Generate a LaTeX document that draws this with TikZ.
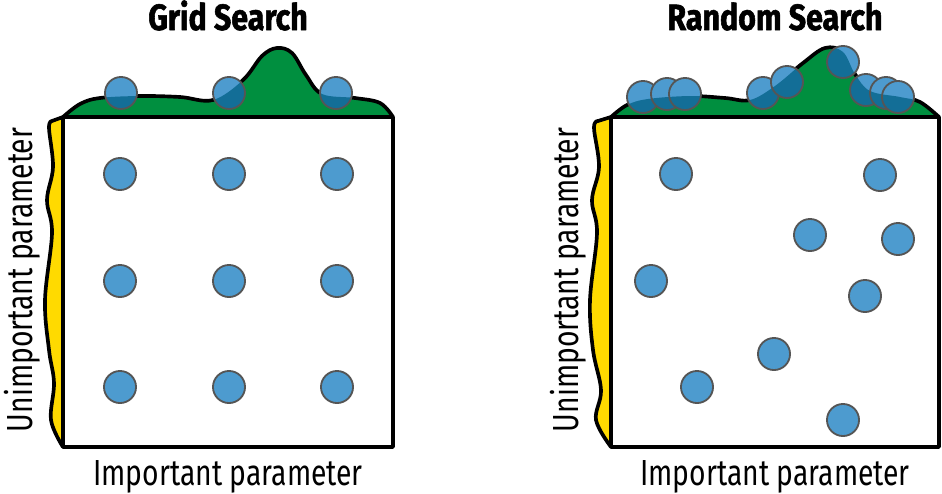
\documentclass[tikz,border=0pt]{standalone}
\usepackage{fontspec}
\setmainfont{Fira Sans}[FakeStretch=0.78]
\newfontfamily\titlefont{Fira Sans}[FakeStretch=0.83,FakeBold=1.5]
\definecolor{dotblue}{HTML}{4D9BCF}
\definecolor{dotdark}{HTML}{136E97}
\definecolor{dotedge}{HTML}{555555}
\definecolor{hillgreen}{HTML}{008F3F}
\definecolor{sideyellow}{HTML}{FFDA00}
\tikzset{
  dot/.style={fill=dotblue},
  dotline/.style={draw=dotedge,line width=1.3pt},
  frame/.style={line width=2.6pt,line join=round},
  title/.style={font=\titlefont\bfseries\fontsize{26}{28}\selectfont,anchor=base},
  axislabel/.style={font=\fontsize{25.8}{28}\selectfont,anchor=base}
}
\def\dotr{11.4pt}
% hill over the important parameter
\def\gridhill{plot[smooth,tension=0.6] coordinates {(63,117) (80,104) (100,98) (140,96) (180,97) (213,100) (243,80) (262,56) (277,48) (292,53) (306,75) (322,94) (355,98) (380,103) (393,117)}}
\def\randhill{plot[smooth,tension=0.6] coordinates {(611,117) (627,105) (648,99) (690,96) (725,98) (750,100) (775,86) (803,63) (825,48) (843,52) (855,74) (870,91) (900,97) (920,102) (939,117)}}
\begin{document}
\begin{tikzpicture}[x=0.025cm,y=-0.025cm,line cap=round,line join=round]
  \useasboundingbox (0,0) rectangle (942,494);
  % side curves
  \filldraw[fill=sideyellow,frame] (63,117) -- plot[smooth,tension=0.6] coordinates {(52,121) (49,128) (53,167) (47,200) (52,233) (45,300) (49,350) (54,383) (51,420) (63,447)} -- cycle;
  \filldraw[fill=sideyellow,frame] (611,117) -- plot[smooth,tension=0.6] coordinates {(598,121) (594,128) (599,167) (592,200) (597,233) (590,300) (593,350) (601,390) (596,420) (611,447)} -- cycle;
  % hills
  \fill[hillgreen] \gridhill -- cycle;
  \draw[frame] \gridhill;
  \fill[hillgreen] \randhill -- cycle;
  \draw[frame] \randhill;
  % boxes
  \draw[frame] (63,117) rectangle (393,447);
  \draw[frame] (611,117) rectangle (939,447);
  % dots on the hills
  \foreach \x/\y in {121/93,229/93,336/93}{
    \fill[dot] (\x,\y) circle (\dotr);
    \begin{scope}
      \clip \gridhill -- cycle;
      \fill[dotdark] (\x,\y) circle (\dotr);
    \end{scope}
    \draw[dotline] (\x,\y) circle (\dotr);
  }
  \foreach \x/\y in {643/97,667/94,685/94,763/93,787/82,843/62,866/90,886/93,898/97}{
    \fill[dot] (\x,\y) circle (\dotr);
    \begin{scope}
      \clip \randhill -- cycle;
      \fill[dotdark] (\x,\y) circle (\dotr);
    \end{scope}
    \draw[dotline] (\x,\y) circle (\dotr);
  }
  % dots in the boxes
  \foreach \x in {120,229,337}{
    \foreach \y in {174,281,387}{
      \filldraw[dot,dotline] (\x,\y) circle (\dotr);
    }
  }
  \foreach \x/\y in {676/174,880/175,810/235,898/239,651/281,865/296,774/354,697/387,843/420}{
    \filldraw[dot,dotline] (\x,\y) circle (\dotr);
  }
  % labels
  \node[title] (gridtitle) at (228,30) {Grid Search};
  \node[title] (randtitle) at (775,30) {Random Search};
  \node[axislabel] (gridx) at (228,485) {Important parameter};
  \node[axislabel] (randx) at (775,485) {Important parameter};
  \node[axislabel,rotate=90] (gridy) at (32,280) {Unimportant parameter};
  \node[axislabel,rotate=90] (randy) at (578,280) {Unimportant parameter};
\end{tikzpicture}
\end{document}
